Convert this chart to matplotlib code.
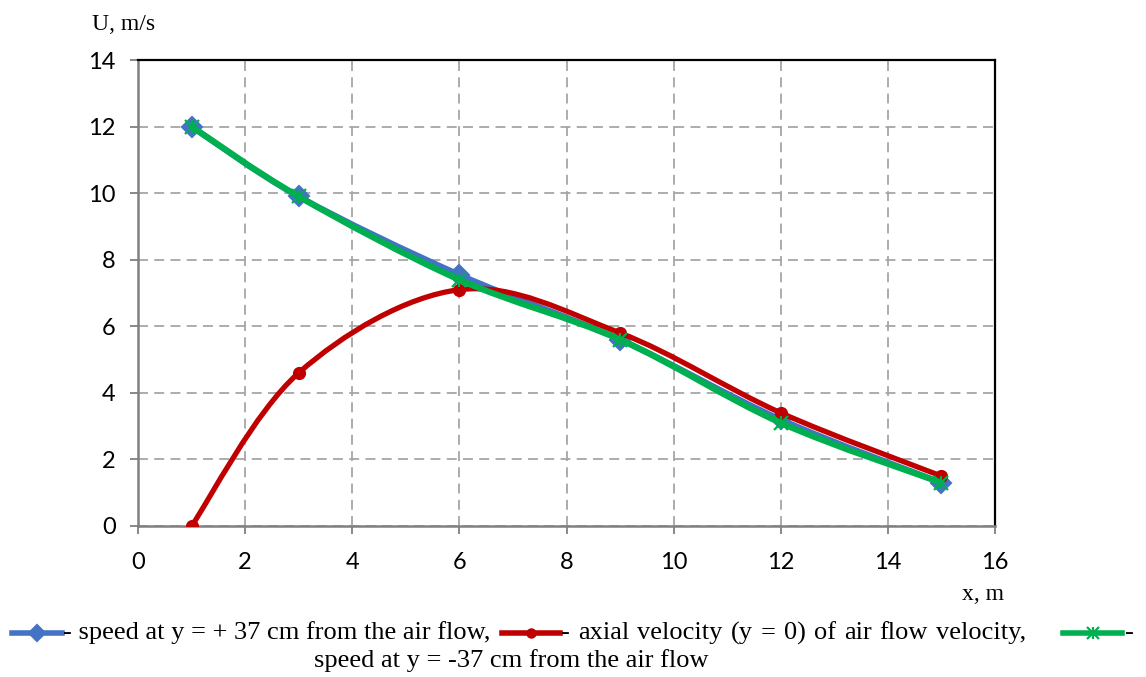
import numpy as np
import matplotlib.pyplot as plt
from matplotlib.path import Path
from matplotlib.patches import PathPatch
from matplotlib.lines import Line2D

x = [1, 3, 6, 9, 12, 15]
u_plus = [12.0, 9.9, 7.55, 5.6, 3.2, 1.3]
u_axis = [0.0, 4.6, 7.1, 5.8, 3.4, 1.5]
u_minus = [12.0, 9.9, 7.4, 5.6, 3.1, 1.3]

blue = '#4472C4'
red = '#C00000'
green = '#00B050'
serif = 'Liberation Serif'
sans = 'Lato'


def smooth_path(xs, ys):
    # excel style smoothed line: cubic bezier with catmull-rom control points
    p = np.column_stack([xs, ys]).astype(float)
    n = len(p)
    verts = [p[0]]
    codes = [Path.MOVETO]
    for i in range(n - 1):
        p0 = p[max(i - 1, 0)]
        p1 = p[i]
        p2 = p[i + 1]
        p3 = p[min(i + 2, n - 1)]
        c1 = p1 + (p2 - p0) / 6.0
        c2 = p2 - (p3 - p1) / 6.0
        verts += [c1, c2, p2]
        codes += [Path.CURVE4] * 3
    return Path(verts, codes)


fig = plt.figure(figsize=(11.46, 6.77), dpi=100)
ax = fig.add_axes([138 / 1146, 1 - 526 / 677, (995 - 138) / 1146, (526 - 60) / 677])

ax.set_xlim(0, 16)
ax.set_ylim(0, 14)
ax.set_xticks(range(0, 17, 2))
ax.set_yticks(range(0, 15, 2))
ax.grid(True, color='#A6A6A6', linestyle=(0, (5.5, 3.5)), linewidth=1.3)
ax.set_axisbelow(True)

for side in ['left', 'bottom']:
    ax.spines[side].set_color('#808080')
    ax.spines[side].set_linewidth(1.8)
for side in ['top', 'right']:
    ax.spines[side].set_color('black')
    ax.spines[side].set_linewidth(1.6)
ax.tick_params(axis='both', direction='out', length=6, width=1.3, color='#808080',
               labelsize=17)
ax.tick_params(axis='x', pad=13)
ax.tick_params(axis='y', pad=10)
for lab in ax.get_xticklabels() + ax.get_yticklabels():
    lab.set_fontfamily(sans)


def star(axis_or_fig, xs, ys, col, ms, **kw):
    # excel "star" marker: an x with a vertical bar through it
    for mk in ['x', '|']:
        axis_or_fig.add_artist(Line2D(xs, ys, linestyle='none', marker=mk, markersize=ms,
                                      color=col, markeredgewidth=1.6, **kw))


series = [
    (u_plus, blue, 'D', 10, 4.2, 2),
    (u_axis, red, 'o', 8, 3.8, 3),
    (u_minus, green, None, 10, 4.5, 4),
]
for ys, col, mk, ms, lw, z in series:
    ax.add_patch(PathPatch(smooth_path(x, ys), facecolor='none', edgecolor=col,
                           linewidth=lw, capstyle='round', joinstyle='round', zorder=z))
    if mk is None:
        star(ax, x, ys, col, ms, zorder=z + 0.5)
    else:
        ax.plot(x, ys, linestyle='none', marker=mk, markersize=ms, color=col,
                markeredgecolor=col, markeredgewidth=1.5, zorder=z + 0.5)

fig.text(92 / 1146, 1 - 25 / 677, 'U, m/s', family=serif, fontsize=17, va='center', ha='left')
fig.text(983 / 1146, 1 - 594 / 677, 'x, m', family=serif, fontsize=17, va='center', ha='center')


# legend drawn as running text with inline line samples
def sample(x0, x1, yc, col, mk, ms):
    yf = 1 - yc / 677
    fig.add_artist(Line2D([x0 / 1146, x1 / 1146], [yf, yf], color=col, linewidth=4,
                          transform=fig.transFigure))
    xm = [(x0 + x1) / 2 / 1146]
    if mk is None:
        star(fig, xm, [yf], col, ms, transform=fig.transFigure)
    else:
        fig.add_artist(Line2D(xm, [yf], color=col, marker=mk, markersize=ms,
                              markeredgewidth=1.5, transform=fig.transFigure))


fs = 19
renderer = fig.canvas.get_renderer()


def justified(text, x0, x1, yc):
    # word-by-word placement so the run fills x0..x1 like justified text
    words = text.split(' ')
    arts = [fig.text(0, 1 - yc / 677, w, family=serif, fontsize=fs, va='center', ha='left')
            for w in words]
    widths = [a.get_window_extent(renderer).width for a in arts]
    gap = (x1 - x0 - sum(widths)) / (len(words) - 1)
    pos = x0
    for a, w in zip(arts, widths):
        a.set_x(pos / 1146)
        pos += w + gap


row1 = 633
row2 = 661
sample(12, 62, row1, blue, 'D', 8)
fig.text(63 / 1146, 1 - row1 / 677, '- speed at y = + 37 cm from the air flow,',
         family=serif, fontsize=fs, va='center', ha='left')
sample(502, 560, row1, red, 'o', 6)
justified('- axial velocity (y = 0) of air flow velocity,', 561, 1026, row1)
sample(1063, 1122, row1, green, None, 8)
fig.text(1125 / 1146, 1 - row1 / 677, '-', family=serif, fontsize=fs, va='center', ha='left')
fig.text(511 / 1146, 1 - row2 / 677, 'speed at y = -37 cm from the air flow',
         family=serif, fontsize=fs, va='center', ha='center')

fig.savefig('out.png', dpi=100)
